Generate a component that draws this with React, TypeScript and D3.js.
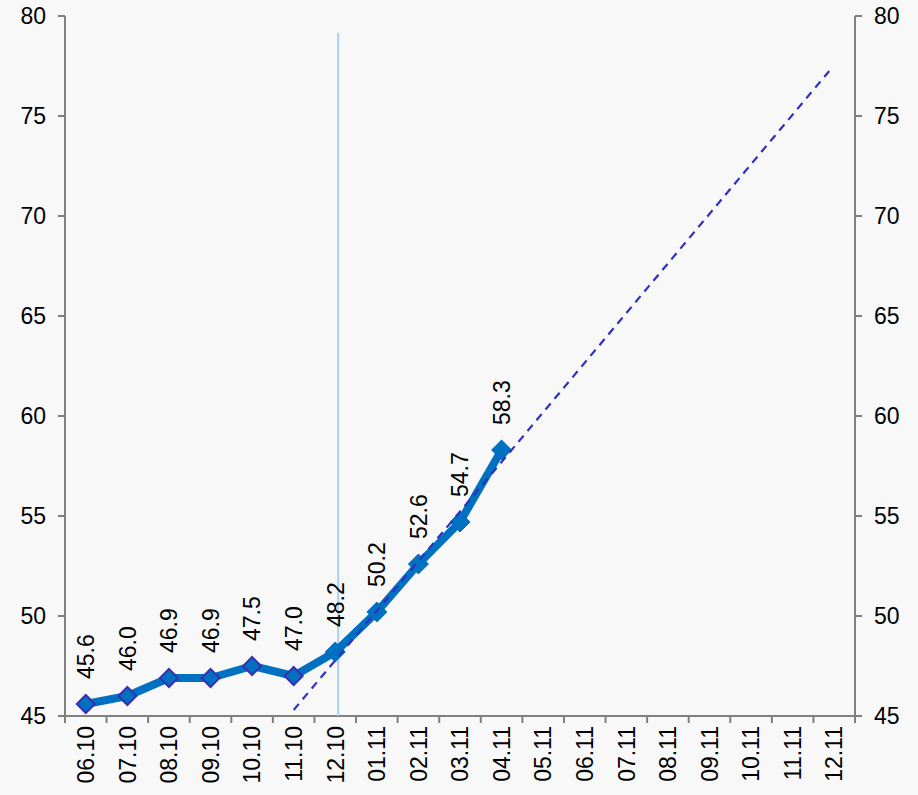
import React from "react";
import * as d3 from "d3";

const categories = ["06.10","07.10","08.10","09.10","10.10","11.10","12.10","01.11","02.11","03.11","04.11","05.11","06.11","07.11","08.11","09.11","10.11","11.11","12.11"];
const values = [45.6, 46.0, 46.9, 46.9, 47.5, 47.0, 48.2, 50.2, 52.6, 54.7, 58.3];
const outlinedCount = 6;
const yTicks = [45, 50, 55, 60, 65, 70, 75, 80];
// trend line endpoints: [category index position, value]
const trendPoints: [number, number][] = [[5, 45.3], [17.88, 77.25]];
const markerIndexPos = 6.07;
const markerTop = 79.15;

const W = 918, H = 795;
const L = 65, R = 855, T = 16, B = 716;
const FONT = "'Liberation Sans', Arial, sans-serif";

export default function App() {
  const x = d3.scaleBand<string>().domain(categories).range([L, R]).paddingInner(0).paddingOuter(0);
  const bw = x.bandwidth();
  const cx = (i: number) => L + bw * (i + 0.5);
  const y = d3.scaleLinear().domain([45, 80]).range([B, T]);
  const line = d3.line<number>().x((_, i) => cx(i)).y(d => y(d));
  const trend = d3.line<[number, number]>().x(d => cx(d[0])).y(d => y(d[1]));
  const gray = "#808080";
  const dia = (px: number, py: number, r: number) => `M${px},${py - r}L${px + r},${py}L${px},${py + r}L${px - r},${py}Z`;
  const boundaries = d3.range(categories.length + 1).map(i => L + bw * i);

  return (
    <svg width={W} height={H} style={{ position: "fixed", left: 0, top: 0, background: "#f8f8f8" }} fontFamily={FONT}>
      <rect x={0} y={0} width={W} height={H} fill="#f8f8f8" />
      {/* axes */}
      <line x1={L} x2={L} y1={T} y2={B} stroke={gray} strokeWidth={2} />
      <line x1={R} x2={R} y1={T} y2={B} stroke={gray} strokeWidth={2} />
      <line x1={L} x2={R} y1={B} y2={B} stroke={gray} strokeWidth={2} />
      {yTicks.map(t => (
        <g key={t}>
          <line x1={L - 7} x2={L} y1={y(t)} y2={y(t)} stroke={gray} strokeWidth={2} />
          <line x1={R} x2={R + 7} y1={y(t)} y2={y(t)} stroke={gray} strokeWidth={2} />
          <text x={L - 19} y={y(t)} dy="0.36em" textAnchor="end" fontSize={23} fill="#000">{t}</text>
          <text x={R + 19} y={y(t)} dy="0.36em" textAnchor="start" fontSize={23} fill="#000">{t}</text>
        </g>
      ))}
      {boundaries.map((bx, i) => (
        <line key={i} x1={bx} x2={bx} y1={B} y2={B + 7} stroke={gray} strokeWidth={2} />
      ))}
      {categories.map((c, i) => (
        <text key={c} transform={`translate(${cx(i)},${B + 10}) rotate(-90)`} dy="0.36em" textAnchor="end" fontSize={23} fill="#000">{c}</text>
      ))}
      {/* vertical marker */}
      <line x1={cx(markerIndexPos)} x2={cx(markerIndexPos)} y1={y(markerTop)} y2={B} stroke="#a6d0fb" strokeWidth={2} />
      {/* series */}
      <path d={line(values) || ""} fill="none" stroke="#0070c0" strokeWidth={8} strokeLinejoin="round" />
      {values.map((v, i) => (
        i < outlinedCount
          ? <path key={i} d={dia(cx(i), y(v), 9)} fill="#0070c0" stroke="#3a2fb0" strokeWidth={2} />
          : <path key={i} d={dia(cx(i), y(v), 10)} fill="#0070c0" stroke="#0070c0" strokeWidth={1} />
      ))}
      {/* trend */}
      <path d={trend(trendPoints) || ""} fill="none" stroke="#3030c0" strokeWidth={2.2} strokeDasharray="8,6" />
      {/* labels */}
      {values.map((v, i) => (
        <text key={i} transform={`translate(${cx(i)},${y(v) - 25}) rotate(-90)`} dy="0.36em" textAnchor="start" fontSize={23} fill="#000">{v.toFixed(1)}</text>
      ))}
    </svg>
  );
}
